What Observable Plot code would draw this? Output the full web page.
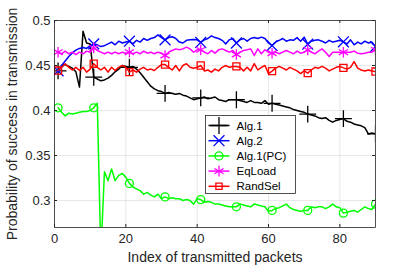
<!DOCTYPE html>
<html><head><meta charset="utf-8">
<script src="https://cdn.jsdelivr.net/npm/d3@7"></script>
<script src="https://cdn.jsdelivr.net/npm/@observablehq/plot@0.6"></script>
<style>
html,body{margin:0;padding:0;background:#fff;}
#chart{width:415px;height:268px;}
</style></head><body><div id="chart"></div>
<script>
const xTicks = [0, 20, 40, 60, 80];
const yTicks = [0.3, 0.35, 0.4, 0.45, 0.5];
const xLabel = "Index of transmitted packets";
const yLabel = "Probability of success in transmission";
const seriesNames = ["Alg.1", "Alg.2", "Alg.1(PC)", "EqLoad", "RandSel"];

const alg1 = [0.444,0.450,0.451,0.449,0.447,0.443,0.426,0.488,0.475,0.474,
 0.437,0.435,0.433,0.434,0.436,0.439,0.443,0.446,0.450,0.449,
 0.448,0.449,0.446,0.442,0.437,0.432,0.427,0.424,0.422,0.421,
 0.419,0.420,0.419,0.418,0.419,0.417,0.416,0.414,0.412,0.413,
 0.414,0.415,0.413,0.414,0.415,0.412,0.411,0.410,0.412,0.412,
 0.412,0.411,0.410,0.409,0.411,0.409,0.409,0.408,0.411,0.407,
 0.408,0.407,0.406,0.405,0.404,0.403,0.401,0.400,0.399,0.398,
 0.396,0.395,0.394,0.392,0.391,0.392,0.389,0.387,0.389,0.390,
 0.391,0.388,0.387,0.385,0.384,0.383,0.381,0.374,0.375,0.374];

const alg2 = [0.444,0.450,0.455,0.460,0.464,0.467,0.469,0.470,0.469,0.472,
 0.474,0.473,0.471,0.472,0.474,0.476,0.473,0.477,0.475,0.476,
 0.477,0.474,0.478,0.476,0.480,0.478,0.480,0.481,0.484,0.481,
 0.4785,0.481,0.482,0.480,0.476,0.475,0.478,0.4785,0.479,0.4785,
 0.4756,0.4785,0.480,0.483,0.481,0.480,0.478,0.474,0.4785,0.480,
 0.475,0.4785,0.480,0.477,0.480,0.481,0.480,0.4815,0.480,0.475,
 0.4722,0.476,0.478,0.480,0.477,0.4785,0.478,0.481,0.477,0.4815,
 0.4737,0.477,0.478,0.4785,0.477,0.475,0.478,0.476,0.477,0.478,
 0.4763,0.474,0.4785,0.473,0.476,0.474,0.477,0.475,0.476,0.471];

const alg1pc = [0.403,0.398,0.394,0.397,0.396,0.397,0.398,0.399,0.399,0.400,
 0.403,0.408,0.240,0.332,0.322,0.335,0.322,0.328,0.330,0.326,
 0.319,0.315,0.313,0.311,0.307,0.309,0.306,0.304,0.307,0.302,
 0.304,0.302,0.303,0.302,0.302,0.300,0.301,0.300,0.296,0.302,
 0.301,0.298,0.299,0.298,0.296,0.296,0.295,0.294,0.293,0.293,
 0.293,0.296,0.295,0.294,0.293,0.296,0.295,0.294,0.293,0.288,
 0.289,0.291,0.292,0.294,0.296,0.292,0.290,0.289,0.288,0.289,
 0.289,0.293,0.292,0.293,0.293,0.291,0.293,0.296,0.293,0.292,
 0.286,0.287,0.288,0.289,0.287,0.290,0.293,0.291,0.290,0.296];

const eqload = [0.4648,0.463,0.466,0.463,0.4648,0.4622,0.4648,0.463,0.466,0.4648,
 0.4696,0.4667,0.4648,0.463,0.4648,0.463,0.4648,0.463,0.4648,0.4637,
 0.4648,0.463,0.4648,0.463,0.466,0.4637,0.4648,0.463,0.4648,0.4637,
 0.4611,0.4648,0.4667,0.4685,0.4674,0.4685,0.4704,0.4685,0.4648,0.4674,
 0.4674,0.4648,0.463,0.4667,0.4637,0.4674,0.4685,0.4667,0.4648,0.4667,
 0.4622,0.4648,0.4667,0.4674,0.4685,0.4611,0.4685,0.463,0.4674,0.4648,
 0.4637,0.4648,0.463,0.4648,0.4667,0.4648,0.463,0.466,0.4637,0.4648,
 0.4674,0.4648,0.463,0.466,0.4685,0.4648,0.460,0.4648,0.4648,0.4648,
 0.4648,0.4648,0.4648,0.466,0.4637,0.463,0.4637,0.4648,0.4648,0.4674];

const randsel = [0.4444,0.448,0.452,0.448,0.445,0.448,0.4444,0.448,0.4426,0.446,
 0.452,0.448,0.445,0.448,0.4426,0.448,0.4444,0.448,0.450,0.448,
 0.4426,0.445,0.4426,0.446,0.448,0.445,0.446,0.4444,0.448,0.451,
 0.451,0.448,0.445,0.450,0.444,0.450,0.452,0.448,0.447,0.448,
 0.450,0.444,0.445,0.4426,0.446,0.444,0.448,0.450,0.448,0.449,
 0.449,0.448,0.444,0.448,0.444,0.452,0.445,0.448,0.450,0.441,
 0.4437,0.447,0.449,0.447,0.445,0.448,0.446,0.444,0.441,0.444,
 0.4415,0.445,0.448,0.447,0.449,0.447,0.444,0.446,0.448,0.449,
 0.4474,0.446,0.448,0.4544,0.447,0.445,0.444,0.445,0.444,0.4433];

const series = [alg1, alg2, alg1pc, eqload, randsel];
const colors = ["#000000", "#0000ff", "#00ff00", "#ff00ff", "#ff0000"];
const symbols = ["plus", "times", "circle", "asterisk", "square"];
const markerR = [5.5, 5, 4, 5, 4];
const d3symbols = [d3.symbolPlus, d3.symbolTimes, d3.symbolCircle, d3.symbolAsterisk, d3.symbolSquare2];
const markerX = new Set([1, 11, 21, 31, 41, 51, 61, 71, 81, 90]);

const rows = series.map((vals) => vals.map((v, i) => ({x: i + 1, y: v})));

const W = 415, H = 268, mL = 54, mR = 40, mT = 20, mB = 41;
const fw = W - mL - mR, fh = H - mT - mB;
const axisColor = "#262626";

const marks = [
  Plot.gridX(xTicks, {stroke: "#000", strokeOpacity: 0.13, strokeWidth: 0.7}),
  Plot.gridY(yTicks, {stroke: "#000", strokeOpacity: 0.13, strokeWidth: 0.7}),
];
series.forEach((s, k) => {
  marks.push(Plot.line(rows[k], {x: "x", y: "y", stroke: colors[k], strokeWidth: 1.5, clip: true}));
  marks.push(Plot.dot(rows[k].filter(d => markerX.has(d.x)), {x: "x", y: "y", symbol: () => symbols[k], stroke: colors[k], fill: "none", r: markerR[k], strokeWidth: 1.3, clip: true}));
});
marks.push(
  Plot.tickX(xTicks, {x: d => d, insetTop: fh - 3, stroke: axisColor}),
  Plot.tickX(xTicks, {x: d => d, insetBottom: fh - 3, stroke: axisColor}),
  Plot.tickY(yTicks, {y: d => d, insetRight: fw - 3, stroke: axisColor}),
  Plot.tickY(yTicks, {y: d => d, insetLeft: fw - 3, stroke: axisColor}),
  Plot.frame({stroke: axisColor, strokeWidth: 0.8}),
  Plot.axisX(xTicks, {tickSize: 0, tickPadding: 6, fontSize: 13, fill: axisColor, label: null}),
  Plot.axisY(yTicks, {tickSize: 0, tickPadding: 4, fontSize: 13, fill: axisColor, tickFormat: d => String(d), label: null}),
  Plot.text([xLabel], {frameAnchor: "bottom", dy: 34, textAnchor: "middle", text: d => d, fontSize: 14, fill: axisColor}),
  Plot.text([yLabel], {frameAnchor: "left", dx: -42, rotate: -90, textAnchor: "middle", text: d => d, fontSize: 14, fill: axisColor})
);

const chart = Plot.plot({
  width: W, height: H,
  marginLeft: mL, marginRight: mR, marginTop: mT, marginBottom: mB,
  x: {domain: [0, 90], axis: null},
  y: {domain: [0.27, 0.5], axis: null},
  style: {fontFamily: "'Liberation Sans', Arial, sans-serif", fontSize: "13px", background: "#fff", overflow: "visible"},
  marks
});
document.getElementById("chart").appendChild(chart);

// Legend box inside the plot area
const svg = d3.select(chart);
const lg = svg.append("g").attr("transform", "translate(205.5,115.5)");
const rowH = 15.2;
lg.append("rect").attr("width", 90).attr("height", 78).attr("fill", "#fff").attr("stroke", axisColor).attr("stroke-width", 0.8);
seriesNames.forEach((name, k) => {
  const y = 10 + k * rowH;
  const g = lg.append("g").attr("transform", `translate(0,${y})`);
  g.append("line").attr("x1", 3).attr("x2", 24).attr("y1", 0).attr("y2", 0).attr("stroke", colors[k]).attr("stroke-width", 1.5);
  g.append("path").attr("d", d3.symbol(d3symbols[k], Math.PI * markerR[k] * markerR[k])()).attr("transform", "translate(13.5,0)")
    .attr("fill", "none").attr("stroke", colors[k]).attr("stroke-width", 1.3);
  g.append("text").attr("x", 31).attr("y", 0).attr("dy", "0.35em").attr("text-anchor", "start")
    .attr("font-size", 11.5).attr("fill", "#000").text(name);
});
</script></body></html>
